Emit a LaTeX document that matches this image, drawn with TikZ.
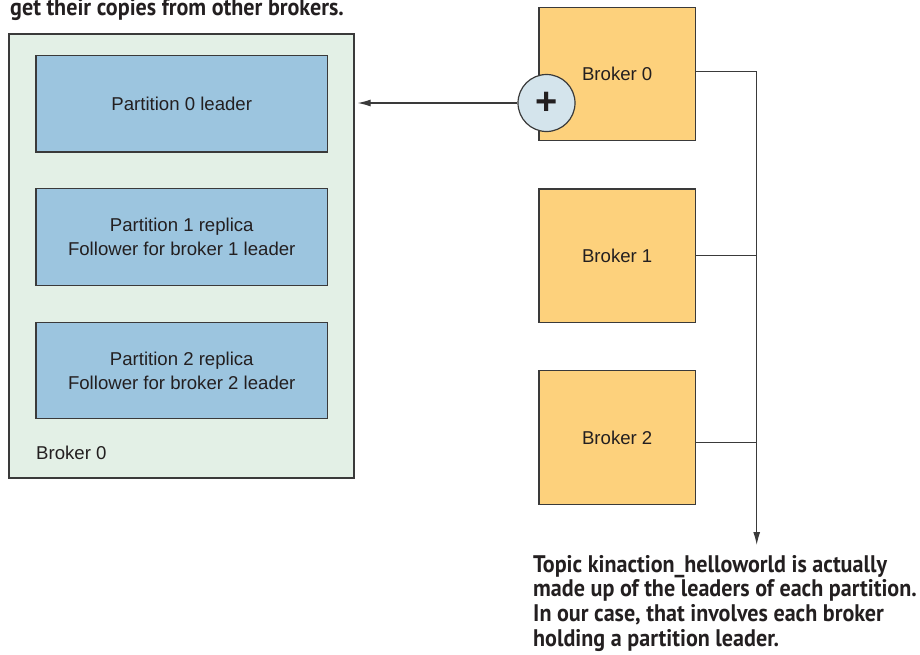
\documentclass[tikz,border=0pt]{standalone}
\usepackage{fontspec}
\setmainfont{Liberation Sans}
\newfontfamily\notefont[FakeStretch=0.92]{PT Sans}
\usepackage{tikz}
\usetikzlibrary{positioning,arrows.meta}

\definecolor{grpfill}{HTML}{E3F0E6}
\definecolor{partfill}{HTML}{9CC5DF}
\definecolor{brokerfill}{HTML}{FDD17C}
\definecolor{plusfill}{HTML}{D4E4EC}
\definecolor{linegray}{HTML}{3A3A3A}
\definecolor{inkdark}{HTML}{231F20}

\begin{document}
\begin{tikzpicture}[x=1pt, y=-1pt,
		font=\fontsize{18.6}{23.7}\selectfont,
		box/.style={draw=linegray, line width=1.2pt, inner sep=0pt, align=center, text=inkdark},
		partbox/.style={box, fill=partfill, minimum width=291.5pt, minimum height=96.5pt},
		brokerbox/.style={box, fill=brokerfill, minimum width=156.3pt, minimum height=133.4pt},
		note/.style={inner sep=0pt, align=left, text=inkdark, font=\notefont\bfseries\fontsize{24}{24.7}\selectfont},
		wire/.style={draw=linegray, line width=1.2pt},
		tip/.style={-{Latex[length=13pt, width=7pt]}}]
		% Page
		\useasboundingbox (0,0) rectangle (920,654);
		\clip (0,0) rectangle (920,654);
		
		% --- Top caption (cut off by the page) ---
		\node[note, anchor=base west] (topnote) at (10,15.5) {get their copies from other brokers.};
		
		% --- Broker 0 with its partitions ---
		\node[box, fill=grpfill, minimum width=345pt, minimum height=444pt] (grp) at (181.5,256) {};
		\node[partbox] (p0) at (181.75,103.75) {Partition 0 leader};
		\node[partbox] (p1) at (181.75,237) {Partition 1 replica\\Follower for broker 1 leader};
		\node[partbox] (p2) at (181.75,370.5) {Partition 2 replica\\Follower for broker 2 leader};
		\node[anchor=base west, inner sep=0pt, text=inkdark] (grplabel) at (36,459) {Broker 0};
		
		% --- Brokers ---
		\node[brokerbox] (b0) at (617.2,74) {Broker 0};
		\node[brokerbox] (b1) at (617.2,255.7) {Broker 1};
		\node[brokerbox] (b2) at (617.2,437.5) {Broker 2};
		\node[circle, draw=linegray, line width=1.2pt, fill=plusfill, minimum size=57pt, inner sep=0pt,
			font=\fontsize{38}{38}\selectfont\bfseries, text=inkdark] (plus) at (546.5,103) {+};
		
		% Leader copy
		\draw[wire, tip, shorten >=3pt] (plus.west) -- (grp.east |- plus.west);
		
		% Leaders make up the topic
		\coordinate (bus) at (756.7,545);
		\draw[wire, tip] ([yshift=2.3pt]b0.east) -| (bus);
		\draw[wire] (b1.east) -- (b1.east -| bus);
		\draw[wire] ([yshift=-5.2pt]b2.east) -- ([yshift=-5.2pt]b2.east -| bus);
		
		\node[note, anchor=north west] (topic) at (533,555)
			{Topic kinaction\_helloworld is actually\\made up of the leaders of each partition.\\In our case, that involves each broker\\holding a partition leader.};
		
	\end{tikzpicture}
\end{document}
